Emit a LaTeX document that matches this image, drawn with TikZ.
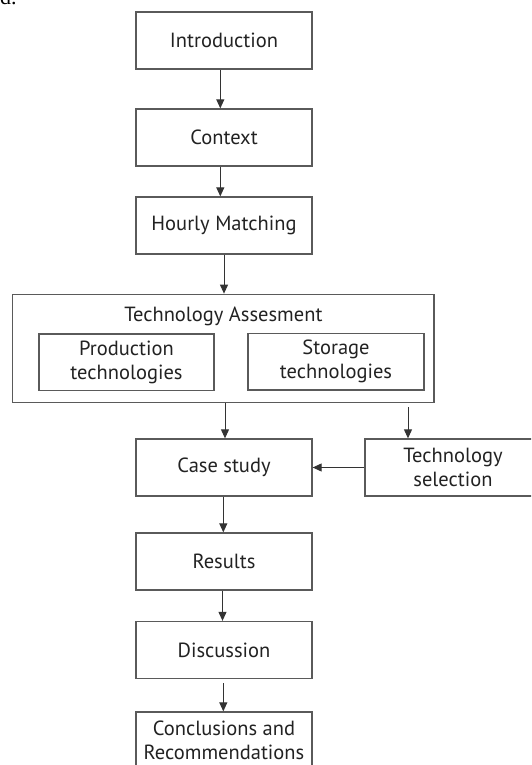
\documentclass[tikz,border=0pt]{standalone}
\usepackage{fontspec}
\setmainfont{PT Sans}
\newfontfamily\serifcut{Liberation Serif}
\usetikzlibrary{arrows.meta,calc}
\definecolor{boxline}{HTML}{5A5A5A}
\definecolor{txt}{HTML}{222222}
\definecolor{arrline}{HTML}{333333}
\tikzset{
  boxnode/.style={draw=boxline, line width=1.3pt, minimum width=176pt, minimum height=57pt,
    inner sep=0pt, align=center, text=txt, font=\fontsize{20.5}{24}\selectfont},
  arr/.style={draw=arrline, line width=1pt, -{Triangle[length=9pt,width=8pt]}}
}
\begin{document}
\begin{tikzpicture}[x=1pt,y=-1pt]
\useasboundingbox (0,0) rectangle (531,765);
\begin{scope}
\clip (0,0) rectangle (531,765);
\node[anchor=base west, inner sep=0pt, font=\serifcut\fontsize{22}{24}\selectfont, text=black] (dcut) at (0,5) {d.};

\node[boxnode] (intro) at (224,40.5) {Introduction};
\node[boxnode] (context) at (224,137.5) {Context};
\node[boxnode] (hourly) at (224,225.5) {Hourly Matching};

\node[boxnode, minimum width=421.3pt, minimum height=108.4pt] (ta) at (223.4,348.5) {};
\node[anchor=base, inner sep=0pt, text=txt, font=\fontsize{20.5}{24}\selectfont] (tatitle) at (223.4,321) {Technology Assesment};
\node[boxnode, minimum width=175pt, minimum height=56.7pt] (prod) at (126.5,362.3) {Production\\technologies};
\node[boxnode, minimum height=56.7pt] (stor) at (336,361.5) {Storage\\technologies};

\node[boxnode] (case) at (224,467.5) {Case study};
\node[boxnode] (techsel) at (453,467.5) {Technology\\selection};
\node[boxnode] (results) at (224,561.5) {Results};
\node[boxnode] (disc) at (224,650) {Discussion};
\node[boxnode] (concl) at (224,740.5) {Conclusions and\\Recommendations};

\coordinate (tsstart) at (408,407);
\coordinate (dcstart) at (223.3,683);

\draw[arr] ([xshift=-3.7pt]intro.south) -- ([xshift=-3.7pt]context.north);
\draw[arr] ([xshift=-3.7pt]context.south) -- ([xshift=-3.7pt]hourly.north);
\draw[arr] (hourly.south) -- (hourly.south |- ta.north);
\draw[arr] ([xshift=1.6pt]ta.south) -- ([xshift=1pt]case.north);
\draw[arr] (tsstart) -- (tsstart |- techsel.north);
\draw[arr] (techsel.west) -- (case.east);
\draw[arr] ([xshift=-0.7pt]case.south) -- ([xshift=-0.7pt]results.north);
\draw[arr] ([xshift=-1.5pt]results.south) -- ([xshift=-1.5pt]disc.north);
\draw[arr] (dcstart) -- (dcstart |- concl.north);
\end{scope}
\end{tikzpicture}
\end{document}
